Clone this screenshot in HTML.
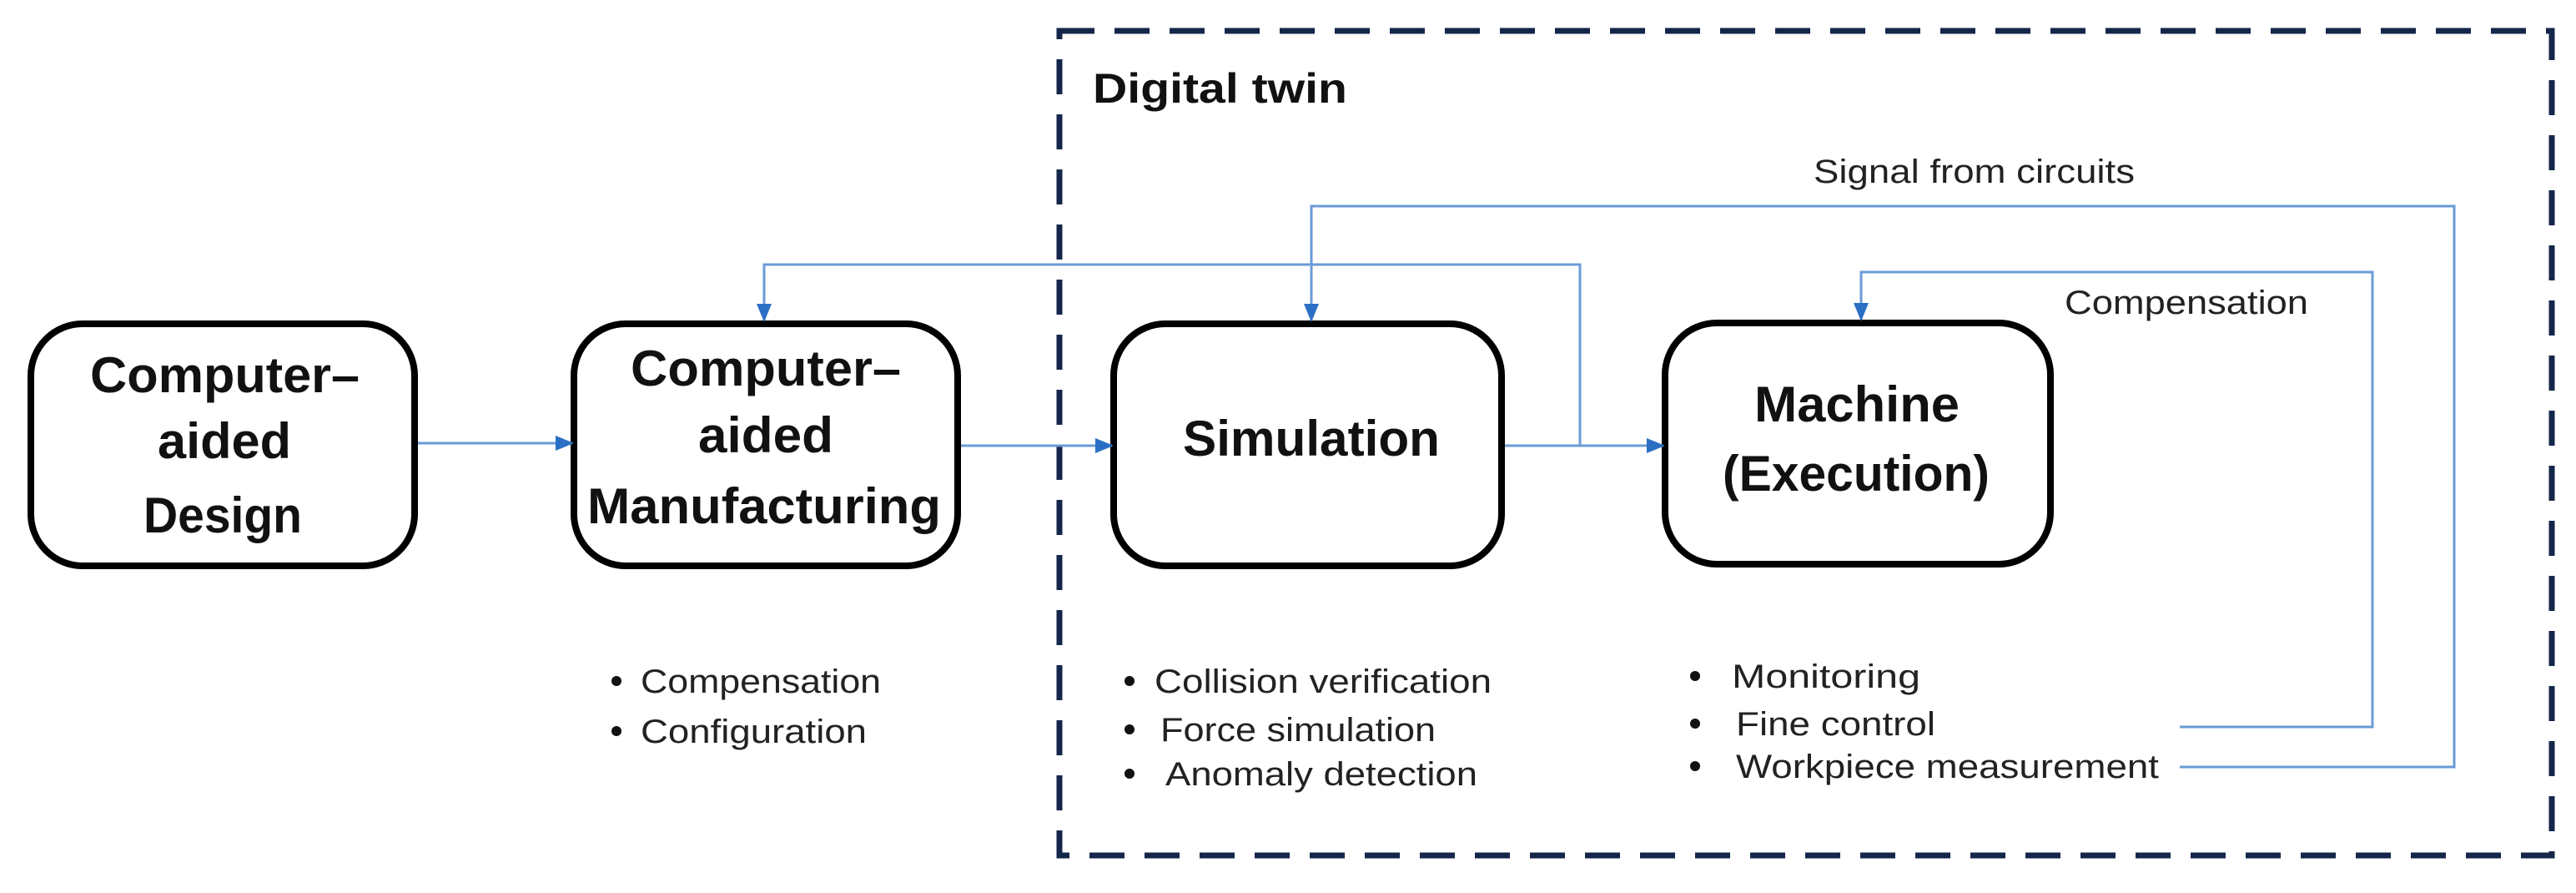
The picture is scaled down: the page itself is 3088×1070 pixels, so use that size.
<!DOCTYPE html>
<html><head><meta charset="utf-8"><style>
html,body{margin:0;padding:0;background:#fff;}
svg{display:block;}
text{font-family:"Liberation Sans",sans-serif;fill:#111;}
.b{font-weight:bold;font-size:60px;}
.s{font-size:40px;fill:#222;}
</style></head><body>
<svg width="3088" height="1070" viewBox="0 0 3088 1070" xmlns="http://www.w3.org/2000/svg">
<defs>
<marker id="ah" markerWidth="22" markerHeight="22" refX="20" refY="11" orient="auto" markerUnits="userSpaceOnUse" viewBox="0 0 22 22">
<path d="M0,2 L22,11 L0,20 z" fill="#2a6fc4"/>
</marker>
</defs>
<rect x="1270" y="37" width="1789" height="988" fill="none" stroke="#14264a" stroke-width="7" stroke-dasharray="42,24"/>
<text x="1310" y="123" style="font-weight:bold;font-size:50px" textLength="305" lengthAdjust="spacingAndGlyphs">Digital twin</text>

<rect x="37" y="388" width="460" height="290" rx="62" fill="#fff" stroke="#000" stroke-width="8"/>
<rect x="688" y="388" width="460" height="290" rx="62" fill="#fff" stroke="#000" stroke-width="8"/>
<rect x="1335" y="388" width="465" height="290" rx="62" fill="#fff" stroke="#000" stroke-width="8"/>
<rect x="1996" y="387" width="462" height="289" rx="62" fill="#fff" stroke="#000" stroke-width="8"/>

<text class="b" x="108" y="470" textLength="323" lengthAdjust="spacingAndGlyphs">Computer–</text>
<text class="b" x="189" y="549" textLength="160" lengthAdjust="spacingAndGlyphs">aided</text>
<text class="b" x="172" y="638" textLength="190" lengthAdjust="spacingAndGlyphs">Design</text>

<text class="b" x="756" y="462" textLength="324" lengthAdjust="spacingAndGlyphs">Computer–</text>
<text class="b" x="837" y="542" textLength="162" lengthAdjust="spacingAndGlyphs">aided</text>
<text class="b" x="704" y="627" textLength="424" lengthAdjust="spacingAndGlyphs">Manufacturing</text>

<text class="b" x="1418" y="546" textLength="308" lengthAdjust="spacingAndGlyphs">Simulation</text>
<text class="b" x="2103" y="505" textLength="246" lengthAdjust="spacingAndGlyphs">Machine</text>
<text class="b" x="2065" y="588" textLength="320" lengthAdjust="spacingAndGlyphs">(Execution)</text>

<g fill="none" stroke="#6a9bd6" stroke-width="3">
<line x1="501" y1="531" x2="686" y2="531" marker-end="url(#ah)"/>
<line x1="1152" y1="534" x2="1333" y2="534" marker-end="url(#ah)"/>
<line x1="1804" y1="534" x2="1994" y2="534" marker-end="url(#ah)"/>
<polyline points="1894,534 1894,317 916,317 916,384" marker-end="url(#ah)"/>
<polyline points="2613,919 2942,919 2942,247 1572,247 1572,384" marker-end="url(#ah)"/>
<polyline points="2613,871 2844,871 2844,326 2231,326 2231,383" marker-end="url(#ah)"/>
</g>

<text class="s" x="2174" y="219" textLength="385" lengthAdjust="spacingAndGlyphs">Signal from circuits</text>
<text class="s" x="2475" y="376" textLength="292" lengthAdjust="spacingAndGlyphs">Compensation</text>

<g fill="#111">
<circle cx="739" cy="816" r="6"/><circle cx="739" cy="876" r="6"/>
<circle cx="1354" cy="816" r="6"/><circle cx="1354" cy="874" r="6"/><circle cx="1354" cy="927" r="6"/>
<circle cx="2032" cy="810" r="6"/><circle cx="2032" cy="867" r="6"/><circle cx="2032" cy="918" r="6"/>
</g>
<text class="s" x="768" y="830" textLength="288" lengthAdjust="spacingAndGlyphs">Compensation</text>
<text class="s" x="768" y="890" textLength="271" lengthAdjust="spacingAndGlyphs">Configuration</text>
<text class="s" x="1384" y="830" textLength="404" lengthAdjust="spacingAndGlyphs">Collision verification</text>
<text class="s" x="1391" y="888" textLength="330" lengthAdjust="spacingAndGlyphs">Force simulation</text>
<text class="s" x="1397" y="941" textLength="374" lengthAdjust="spacingAndGlyphs">Anomaly detection</text>
<text class="s" x="2076" y="824" textLength="226" lengthAdjust="spacingAndGlyphs">Monitoring</text>
<text class="s" x="2081" y="881" textLength="239" lengthAdjust="spacingAndGlyphs">Fine control</text>
<text class="s" x="2081" y="932" textLength="507" lengthAdjust="spacingAndGlyphs">Workpiece measurement</text>
</svg>
</body></html>
